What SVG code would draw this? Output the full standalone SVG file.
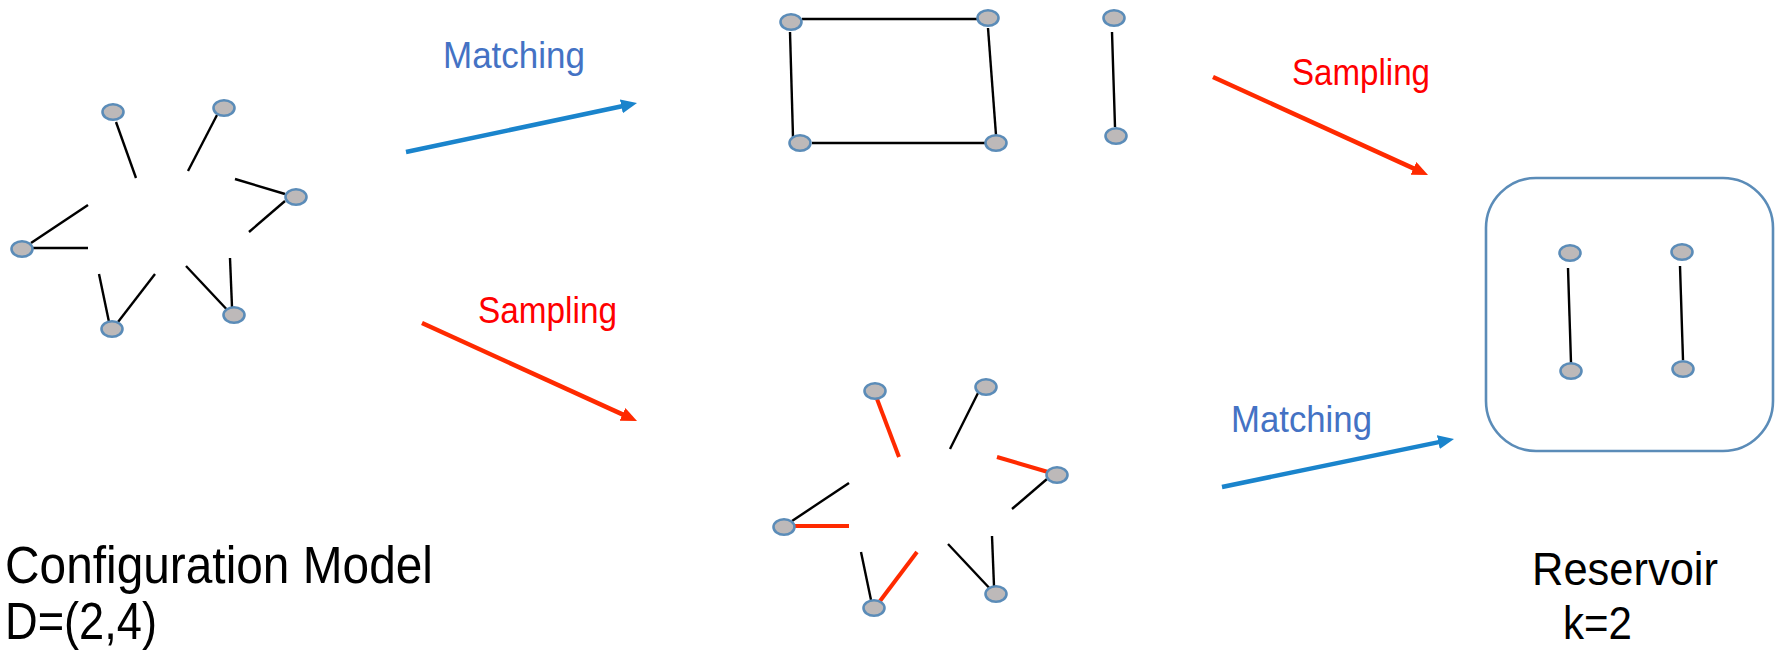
<svg xmlns="http://www.w3.org/2000/svg" width="1776" height="653" viewBox="0 0 1776 653">
  <style>
    .vtx { fill: #bdb9b9; stroke: #5b8cb8; stroke-width: 2.6; }
    .stub { stroke: #000; stroke-width: 2.4; stroke-linecap: butt; fill: none; }
    .pick { stroke: #ff2a00; stroke-width: 4; stroke-linecap: butt; fill: none; }
    .blue { stroke: #1a84cc; stroke-width: 4.5; fill: none; }
    .red { stroke: #ff2a00; stroke-width: 4.5; fill: none; }
    .lbl { font-family: "Liberation Sans", Arial, sans-serif; }
    .match { fill: #4472c4; font-size: 37px; }
    .samp { fill: #ff0000; font-size: 36px; }
    .big { fill: #000; }
    .box { fill: none; stroke: #5b8cb8; stroke-width: 2.6; }
  </style>
  <defs>
    <marker id="headBlue" markerUnits="userSpaceOnUse" markerWidth="17" markerHeight="15" refX="3" refY="7" orient="auto">
      <path d="M0,0 L16,7 L0,14 z" fill="#1a84cc"/>
    </marker>
    <marker id="headRed" markerUnits="userSpaceOnUse" markerWidth="17" markerHeight="15" refX="3" refY="7" orient="auto">
      <path d="M0,0 L16,7 L0,14 z" fill="#ff2a00"/>
    </marker>
  </defs>
  <rect width="1776" height="653" fill="#fff"/>

  <!-- half-edges of the configuration model -->
  <g id="stubs-config">
    <line class="stub" x1="116" y1="122" x2="136" y2="178"/>
    <line class="stub" x1="217" y1="115" x2="188" y2="171"/>
    <line class="stub" x1="285" y1="194" x2="235" y2="179"/>
    <line class="stub" x1="285" y1="201" x2="249" y2="232"/>
    <line class="stub" x1="31" y1="243" x2="88" y2="205"/>
    <line class="stub" x1="33" y1="248" x2="88" y2="248"/>
    <line class="stub" x1="109" y1="322" x2="99" y2="274"/>
    <line class="stub" x1="118" y1="322" x2="155" y2="274"/>
    <line class="stub" x1="232" y1="315" x2="186" y2="266"/>
    <line class="stub" x1="232" y1="307" x2="230" y2="258"/>
  </g>
  <g id="cm-v1"><ellipse class="vtx" cx="113" cy="112" rx="10.5" ry="7.8"/></g>
  <g id="cm-v2"><ellipse class="vtx" cx="224" cy="108" rx="10.5" ry="7.8"/></g>
  <g id="cm-v3"><ellipse class="vtx" cx="296" cy="197" rx="10.5" ry="7.8"/></g>
  <g id="cm-v4"><ellipse class="vtx" cx="22" cy="249" rx="10.5" ry="7.8"/></g>
  <g id="cm-v5"><ellipse class="vtx" cx="112" cy="329" rx="10.5" ry="7.8"/></g>
  <g id="cm-v6"><ellipse class="vtx" cx="234" cy="315" rx="10.5" ry="7.8"/></g>

  <!-- matched graph -->
  <g id="edges-matched">
    <line class="stub" x1="802" y1="19" x2="977" y2="19"/>
    <line class="stub" x1="790" y1="32" x2="793" y2="137"/>
    <line class="stub" x1="988" y1="28" x2="996" y2="135"/>
    <line class="stub" x1="812" y1="143" x2="985" y2="143"/>
    <line class="stub" x1="1112" y1="32" x2="1115" y2="127"/>
  </g>
  <g id="mg-v1"><ellipse class="vtx" cx="791" cy="22" rx="10.5" ry="7.8"/></g>
  <g id="mg-v2"><ellipse class="vtx" cx="988" cy="18" rx="10.5" ry="7.8"/></g>
  <g id="mg-v3"><ellipse class="vtx" cx="800" cy="143" rx="10.5" ry="7.8"/></g>
  <g id="mg-v4"><ellipse class="vtx" cx="996" cy="143" rx="10.5" ry="7.8"/></g>
  <g id="mg-v5"><ellipse class="vtx" cx="1114" cy="18" rx="10.5" ry="7.8"/></g>
  <g id="mg-v6"><ellipse class="vtx" cx="1116" cy="136" rx="10.5" ry="7.8"/></g>

  <!-- sampled half-edges -->
  <g id="stubs-sampled">
    <line class="pick" x1="877" y1="399" x2="899" y2="457"/>
    <line class="stub" x1="978" y1="393" x2="950" y2="449"/>
    <line class="pick" x1="1048" y1="472" x2="997" y2="457"/>
    <line class="stub" x1="1047" y1="479" x2="1012" y2="509"/>
    <line class="stub" x1="792" y1="521" x2="849" y2="483"/>
    <line class="pick" x1="795" y1="526" x2="849" y2="526"/>
    <line class="stub" x1="871" y1="600" x2="861" y2="552"/>
    <line class="pick" x1="880" y1="601" x2="917" y2="552"/>
    <line class="stub" x1="994" y1="593" x2="948" y2="544"/>
    <line class="stub" x1="994" y1="586" x2="992" y2="536"/>
  </g>
  <g id="sg-v1"><ellipse class="vtx" cx="875" cy="391" rx="10.5" ry="7.8"/></g>
  <g id="sg-v2"><ellipse class="vtx" cx="986" cy="387" rx="10.5" ry="7.8"/></g>
  <g id="sg-v3"><ellipse class="vtx" cx="1057" cy="475" rx="10.5" ry="7.8"/></g>
  <g id="sg-v4"><ellipse class="vtx" cx="784" cy="527" rx="10.5" ry="7.8"/></g>
  <g id="sg-v5"><ellipse class="vtx" cx="874" cy="608" rx="10.5" ry="7.8"/></g>
  <g id="sg-v6"><ellipse class="vtx" cx="996" cy="594" rx="10.5" ry="7.8"/></g>

  <!-- reservoir -->
  <g id="reservoir">
    <rect class="box" x="1486" y="178" width="287" height="273" rx="50" ry="50"/>
  </g>
  <g id="edges-reservoir">
    <line class="stub" x1="1568" y1="268" x2="1571" y2="363"/>
    <line class="stub" x1="1680" y1="266" x2="1683" y2="360"/>
  </g>
  <g id="rs-v1"><ellipse class="vtx" cx="1570" cy="253" rx="10.5" ry="7.8"/></g>
  <g id="rs-v2"><ellipse class="vtx" cx="1682" cy="252" rx="10.5" ry="7.8"/></g>
  <g id="rs-v3"><ellipse class="vtx" cx="1571" cy="371" rx="10.5" ry="7.8"/></g>
  <g id="rs-v4"><ellipse class="vtx" cx="1683" cy="369" rx="10.5" ry="7.8"/></g>

  <!-- process arrows -->
  <g id="connectors">
    <line class="blue" x1="406" y1="152" x2="624.3" y2="105.7" marker-end="url(#headBlue)"/>
    <line class="red" x1="1213" y1="77" x2="1416.2" y2="169.6" marker-end="url(#headRed)"/>
    <line class="red" x1="422" y1="323" x2="625.2" y2="415.6" marker-end="url(#headRed)"/>
    <line class="blue" x1="1222" y1="487" x2="1441.3" y2="441.6" marker-end="url(#headBlue)"/>
  </g>

  <!-- labels -->
  <g id="labels" class="lbl">
    <text class="match" x="443" y="68" textLength="142" lengthAdjust="spacingAndGlyphs">Matching</text>
    <text class="samp" x="1292" y="85" textLength="138" lengthAdjust="spacingAndGlyphs">Sampling</text>
    <text class="samp" x="478" y="323" textLength="139" lengthAdjust="spacingAndGlyphs">Sampling</text>
    <text class="match" x="1231" y="432" textLength="141" lengthAdjust="spacingAndGlyphs">Matching</text>
    <text class="big" x="5" y="583" font-size="51" textLength="428" lengthAdjust="spacingAndGlyphs">Configuration Model</text>
    <text class="big" x="5" y="639" font-size="51" textLength="152" lengthAdjust="spacingAndGlyphs">D=(2,4)</text>
    <text class="big" x="1532" y="585" font-size="47" textLength="186" lengthAdjust="spacingAndGlyphs">Reservoir</text>
    <text class="big" x="1563" y="639" font-size="47" textLength="69" lengthAdjust="spacingAndGlyphs">k=2</text>
  </g>
</svg>
